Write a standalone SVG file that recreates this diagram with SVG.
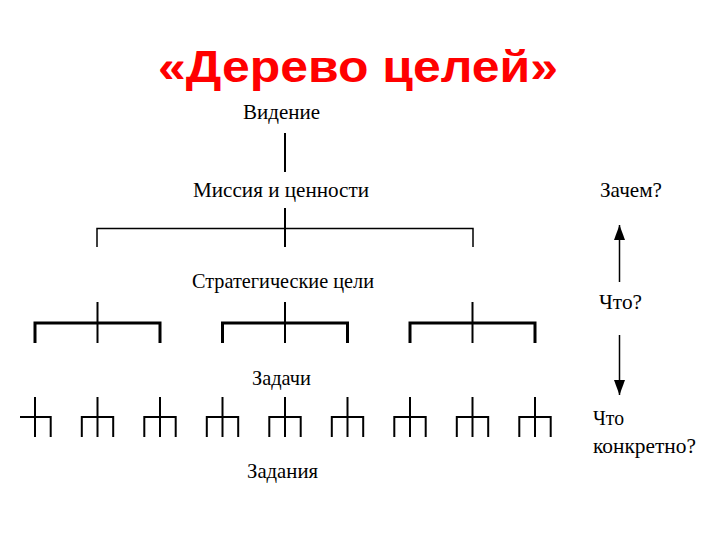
<svg xmlns="http://www.w3.org/2000/svg" width="720" height="540" viewBox="0 0 720 540">
<defs>
<style>
.title{font-family:"Liberation Sans",Arial,sans-serif;font-weight:bold;font-size:45px;fill:#ff0000}
.lbl{font-family:"Liberation Serif","Times New Roman",serif;font-size:21px;fill:#000}
.q{font-family:"Liberation Serif","Times New Roman",serif;font-size:21px;fill:#000}
.ln{stroke:#000;stroke-width:2;fill:none}
.thin{stroke:#000;stroke-width:1.5;fill:none}
.bar{stroke:#000;stroke-width:3;fill:none}
.arr{stroke:#000;stroke-width:1.5;fill:none;marker-end:url(#ah)}
</style>
<marker id="ah" viewBox="0 0 15 11" refX="15" refY="5.5" markerWidth="15" markerHeight="11" markerUnits="userSpaceOnUse" orient="auto">
<path d="M0,0 L15,5.5 L0,11 Z" fill="#000"/>
</marker>
</defs>
<rect width="720" height="540" fill="#fff"/>
<text class="title" x="158" y="82" textLength="400" lengthAdjust="spacingAndGlyphs">«Дерево целей»</text>

<g id="node-videnie"><text class="lbl" x="243" y="119" textLength="77" lengthAdjust="spacingAndGlyphs">Видение</text></g>
<g id="node-missiya"><text class="lbl" x="193" y="197" textLength="176" lengthAdjust="spacingAndGlyphs">Миссия и ценности</text></g>
<g id="node-strat"><text class="lbl" x="192" y="288" textLength="182" lengthAdjust="spacingAndGlyphs">Стратегические цели</text></g>
<g id="node-zadachi"><text class="lbl" x="252" y="385" textLength="59" lengthAdjust="spacingAndGlyphs">Задачи</text></g>
<g id="node-zadaniya"><text class="lbl" x="247" y="478" textLength="71" lengthAdjust="spacingAndGlyphs">Задания</text></g>
<g id="node-zachem"><text class="q" x="600" y="197" textLength="62" lengthAdjust="spacingAndGlyphs">Зачем?</text></g>
<g id="node-chto"><text class="q" x="599" y="309" textLength="43" lengthAdjust="spacingAndGlyphs">Что?</text></g>
<g id="node-konkretno"><text class="q" x="593" y="425" textLength="31" lengthAdjust="spacingAndGlyphs">Что</text><text class="q" x="593" y="453" textLength="103" lengthAdjust="spacingAndGlyphs">конкретно?</text></g>

<g id="connectors">
<line class="ln" x1="285" y1="133" x2="285" y2="172"/>
<line class="ln" x1="285" y1="208" x2="285" y2="247"/>
<polyline class="thin" points="97,247 97,228.5 473,228.5 473,247"/>

<line class="ln" x1="97.5" y1="302" x2="97.5" y2="343"/>
<polyline class="bar" points="35,343 35,323 160,323 160,343"/>
<line class="ln" x1="285" y1="302" x2="285" y2="343"/>
<polyline class="bar" points="222.5,343 222.5,323 347.5,323 347.5,343"/>
<line class="ln" x1="472.5" y1="302" x2="472.5" y2="343"/>
<polyline class="bar" points="410,343 410,323 535,323 535,343"/>

<line class="ln" x1="35" y1="397" x2="35" y2="437"/>
<polyline class="ln" points="20,417 50.7,417 50.7,437"/>
<line class="ln" x1="97.5" y1="397" x2="97.5" y2="437"/>
<polyline class="ln" points="81.8,437 81.8,417 113.2,417 113.2,437"/>
<line class="ln" x1="160" y1="397" x2="160" y2="437"/>
<polyline class="ln" points="144.3,437 144.3,417 175.7,417 175.7,437"/>
<line class="ln" x1="222.5" y1="397" x2="222.5" y2="437"/>
<polyline class="ln" points="206.8,437 206.8,417 238.2,417 238.2,437"/>
<line class="ln" x1="285" y1="397" x2="285" y2="437"/>
<polyline class="ln" points="269.3,437 269.3,417 300.7,417 300.7,437"/>
<line class="ln" x1="347.5" y1="397" x2="347.5" y2="437"/>
<polyline class="ln" points="331.8,437 331.8,417 363.2,417 363.2,437"/>
<line class="ln" x1="410" y1="397" x2="410" y2="437"/>
<polyline class="ln" points="394.3,437 394.3,417 425.7,417 425.7,437"/>
<line class="ln" x1="472.5" y1="397" x2="472.5" y2="437"/>
<polyline class="ln" points="456.8,437 456.8,417 488.2,417 488.2,437"/>
<line class="ln" x1="535" y1="397" x2="535" y2="437"/>
<polyline class="ln" points="519.3,437 519.3,417 550.7,417 550.7,437"/>

<line class="arr" x1="619.5" y1="282" x2="619.5" y2="225"/>
<line class="arr" x1="619.5" y1="335" x2="619.5" y2="395"/>
</g>
</svg>
